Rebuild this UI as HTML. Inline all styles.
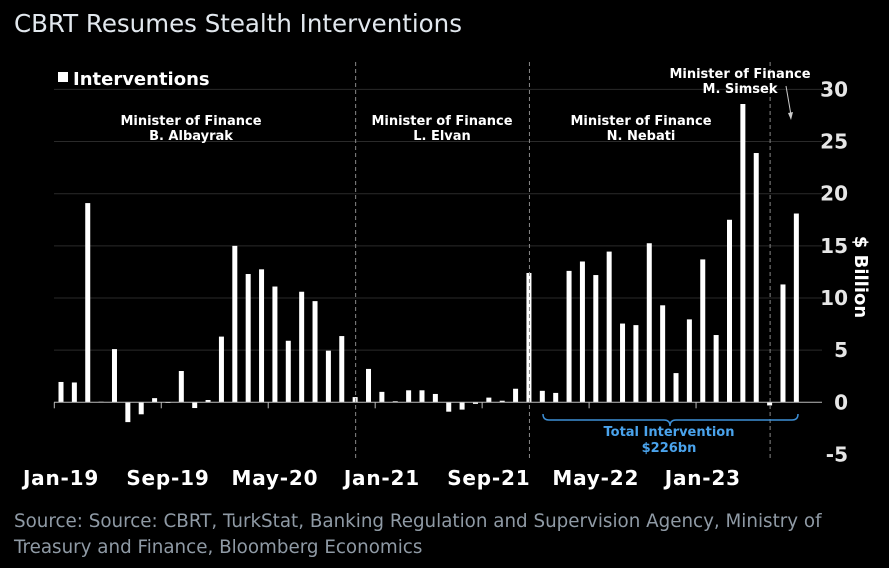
<!DOCTYPE html>
<html><head><meta charset="utf-8"><style>
html,body{margin:0;padding:0;background:#000;}
svg{display:block;}
text{font-family:"DejaVu Sans","Liberation Sans",sans-serif;}
</style></head><body>
<svg id="chart" width="889" height="568" viewBox="0 0 889 568">
<rect width="889" height="568" fill="#000"/>
<text x="14" y="32" fill="#e2e8ee" font-size="24.5">CBRT Resumes Stealth Interventions</text>
<g id="grid"></g>
<g id="bars"></g>
<g id="axes"></g>
<rect x="58" y="72" width="10" height="10" fill="#fff"/>
<text x="73" y="85" fill="#fff" font-size="18" font-weight="bold">Interventions</text>
<g font-size="13" font-weight="bold" fill="#fff" text-anchor="middle">
<text x="191" y="125">Minister of Finance</text>
<text x="191" y="140">B. Albayrak</text>
<text x="442" y="125">Minister of Finance</text>
<text x="442" y="140">L. Elvan</text>
<text x="641" y="125">Minister of Finance</text>
<text x="641" y="140">N. Nebati</text>
<text x="740" y="78">Minister of Finance</text>
<text x="740" y="93">M. Simsek</text>
</g>
<line x1="786" y1="86" x2="791" y2="115" stroke="#ccc" stroke-width="1"/>
<path d="M788,113 L791,120 L793,112 Z" fill="#ccc"/>
<path d="M543,414 Q543,420 549,420 L664,420 Q670,420 670,426 Q670,420 676,420 L792,420 Q798,420 798,414" fill="none" stroke="#3d8fd6" stroke-width="1.5"/>
<text x="669" y="436" fill="#4aa3ec" font-size="13" font-weight="bold" text-anchor="middle">Total Intervention</text>
<text x="669" y="452" fill="#4aa3ec" font-size="13" font-weight="bold" text-anchor="middle">$226bn</text>
<text transform="translate(855,277) rotate(90)" fill="#fff" font-size="18" font-weight="bold" text-anchor="middle">$ Billion</text>
<text x="14" y="527" fill="#8f9aa5" font-size="18.3">Source: Source: CBRT, TurkStat, Banking Regulation and Supervision Agency, Ministry of</text>
<text x="14" y="553" fill="#8f9aa5" font-size="18.3">Treasury and Finance, Bloomberg Economics</text>
</svg>
<script>
const values=[1.95,1.9,19.1,0.05,5.1,-1.9,-1.15,0.4,0,3.0,-0.55,0.22,6.3,15.0,12.3,12.75,11.1,5.9,10.6,9.7,4.95,6.35,0.5,3.2,1.0,0.1,1.15,1.15,0.8,-0.9,-0.7,-0.15,0.45,0.15,1.3,12.4,1.1,0.9,12.6,13.5,12.2,14.45,7.55,7.4,15.25,9.3,2.8,7.95,13.7,6.45,17.5,28.6,23.9,-0.3,11.3,18.1];
const xTickLabels=["Jan-19","Sep-19","May-20","Jan-21","Sep-21","May-22","Jan-23"];
const xTickIndex=[0,8,16,24,32,40,48];
const yTicks=[30,25,20,15,10,5,0,-5];
const dividerIndex=[22,35,53];
const NS="http://www.w3.org/2000/svg";
function y(v){return 402.3-v*10.43;}
function x(i){return 61+i*13.37;}
function mk(tag,attrs,parent){const e=document.createElementNS(NS,tag);for(const k in attrs)e.setAttribute(k,attrs[k]);parent.appendChild(e);return e;}
const grid=document.getElementById('grid'),bars=document.getElementById('bars'),axes=document.getElementById('axes');
yTicks.forEach(v=>{
  if(v!==0&&v!==-5){const l=mk('line',{x1:54,x2:822,y1:y(v),y2:y(v),stroke:'#2a2a2a','stroke-width':1},grid);
  
  }
  const t=mk('text',{x:848,y:y(v)+7,fill:'#e6e6e6','font-size':20,'font-weight':'bold','text-anchor':'end'},axes);
  t.textContent=v;
  
  
});
values.forEach((v,i)=>{
  const top=Math.min(y(v),y(0)),h=Math.max(Math.abs(y(v)-y(0)),0.6);
  const r=mk('rect',{x:x(i)-2.5,y:top,width:5,height:h,fill:'#fff'},bars);
  
  
});
const z=mk('line',{x1:54,x2:822,y1:y(0),y2:y(0),stroke:'#bbb','stroke-width':1},axes);


xTickIndex.forEach((idx,k)=>{
  const tk=mk('line',{x1:x(idx)-6.7,x2:x(idx)-6.7,y1:y(0),y2:y(0)+6,stroke:'#bbb','stroke-width':1},axes);
  
  
  const t=mk('text',{x:x(idx),y:485,fill:'#fff','font-size':20,'font-weight':'bold','text-anchor':'middle','letter-spacing':'0.8'},axes);
  t.textContent=xTickLabels[k];
  
  
});
dividerIndex.forEach(idx=>{
  const l=mk('line',{x1:x(idx)+0.5,x2:x(idx)+0.5,y1:62,y2:460,stroke:'#888','stroke-width':1,'stroke-dasharray':'4,3'},axes);
  
  
});
</script>
</body></html>
